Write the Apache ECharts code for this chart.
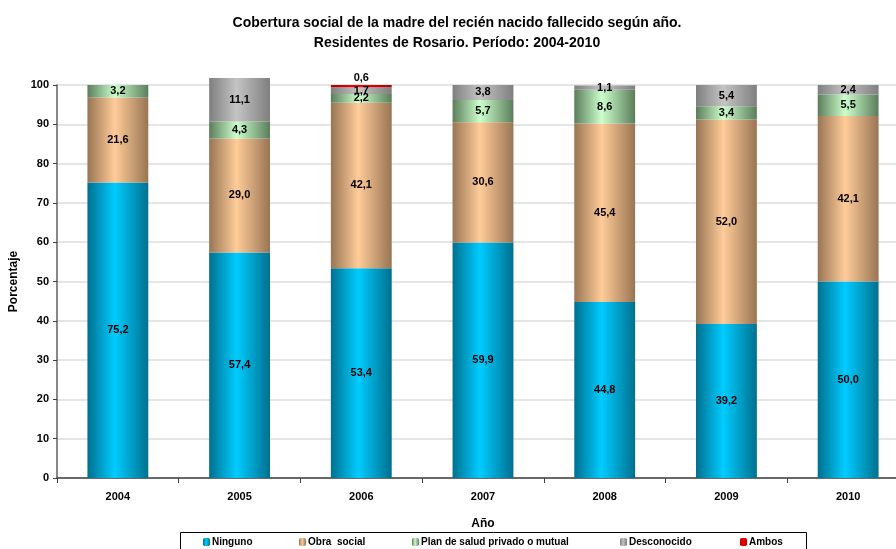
<!DOCTYPE html>
<html>
<head>
<meta charset="utf-8">
<script src="https://cdn.jsdelivr.net/npm/echarts@6/dist/echarts.min.js"></script>
<style>
  html, body { margin: 0; padding: 0; background: #fff; }
  #chart { width: 896px; height: 549px; }
</style>
</head>
<body>
<div id="chart"></div>
<script>
var years = ['2004', '2005', '2006', '2007', '2008', '2009', '2010'];
var ninguno = [75.2, 57.4, 53.4, 59.9, 44.8, 39.2, 50.0];
var obraSocial = [21.6, 29.0, 42.1, 30.6, 45.4, 52.0, 42.1];
var planSalud = [3.2, 4.3, 2.2, 5.7, 8.6, 3.4, 5.5];
var desconocido = [null, 11.1, 1.7, 3.8, 1.1, 5.4, 2.4];
var ambos = [null, null, 0.6, null, null, null, null];

function grad(edge, mid) {
	return new echarts.graphic.LinearGradient(0, 0, 1, 0, [
		{ offset: 0, color: edge },
		{ offset: 0.45, color: mid },
		{ offset: 1, color: edge }
	]);
}

function fmt(p) {
	if (p.value == null || p.value === 0) return '';
	return p.value.toFixed(1).replace('.', ',');
}

function mkSeries(name, data, edge, mid, pos) {
	return {
		name: name,
		type: 'bar',
		stack: 'total',
		clip: false,
		barWidth: '50%',
		data: data,
		itemStyle: { color: grad(edge, mid) },
		label: {
			show: true,
			position: pos || 'inside',
			formatter: fmt,
			color: '#000',
			fontWeight: 'bold',
			fontSize: 11,
			fontFamily: 'Liberation Sans, Arial, sans-serif',
			distance: 2
		}
	};
}

var series = [
	mkSeries('Ninguno', ninguno, '#00708f', '#00ccff'),
	mkSeries('Obra  social', obraSocial, '#987554', '#ffcc99'),
	mkSeries('Plan de salud privado o mutual', planSalud, '#5b7d5b', '#ccffcc'),
	mkSeries('Desconocido', desconocido, '#7f7f7f', '#c4c4c4'),
	mkSeries('Ambos', ambos, '#b00000', '#ff0000', 'top')
];

var legendX = [203, 299, 412, 620, 740];
var legends = series.map(function (s, i) {
	return {
		data: [s.name],
		left: legendX[i],
		top: 537,
		itemWidth: 7,
		itemHeight: 8,
		itemGap: 2,
		padding: 0,
		textStyle: {
			fontSize: 10,
			fontWeight: 'bold',
			color: '#000',
			fontFamily: 'Liberation Sans, Arial, sans-serif',
			padding: [0, 0, 0, -3]
		}
	};
});

var option = {
	animation: false,
	textStyle: { fontFamily: 'Liberation Sans, Arial, sans-serif' },
	title: {
		text: 'Cobertura social de la madre del recién nacido fallecido según año.\nResidentes de Rosario. Período: 2004-2010',
		left: 452,
		textAlign: 'center',
		top: 8,
		textStyle: {
			fontSize: 14,
			fontWeight: 'bold',
			color: '#000',
			lineHeight: 20
		}
	},
	legend: legends,
	grid: {
		left: 57,
		right: -13,
		top: 85,
		bottom: 71,
		outerBoundsMode: 'none'
	},
	xAxis: {
		type: 'category',
		data: years,
		name: 'Año',
		nameLocation: 'middle',
		nameGap: 40,
		nameTextStyle: { fontSize: 12, fontWeight: 'bold', color: '#000' },
		axisLine: { lineStyle: { color: '#404040', width: 1.5 } },
		axisTick: { show: true, length: 5, lineStyle: { color: '#404040' } },
		axisLabel: { fontSize: 11, fontWeight: 'bold', color: '#000', margin: 13 }
	},
	yAxis: {
		type: 'value',
		min: 0,
		max: 100,
		interval: 10,
		name: 'Porcentaje',
		nameLocation: 'middle',
		nameGap: 36,
		nameTextStyle: { fontSize: 12, fontWeight: 'bold', color: '#000' },
		axisLine: { show: true, lineStyle: { color: '#606060', width: 1.5 } },
		axisTick: { show: true, length: 4, lineStyle: { color: '#404040' } },
		axisLabel: { fontSize: 11, fontWeight: 'bold', color: '#000', margin: 8 },
		splitLine: { lineStyle: { color: '#dcdcdc', width: 1.5 } }
	},
	graphic: [{
		type: 'rect',
		shape: { x: 180.5, y: 532.5, width: 626, height: 30 },
		style: { fill: 'none', stroke: '#000', lineWidth: 1 },
		silent: true
	}],
	series: series
};

var chart = echarts.init(document.getElementById('chart'));
chart.setOption(option);
window.addEventListener('resize', function () {
	chart.resize();
});
</script>
</body>
</html>
